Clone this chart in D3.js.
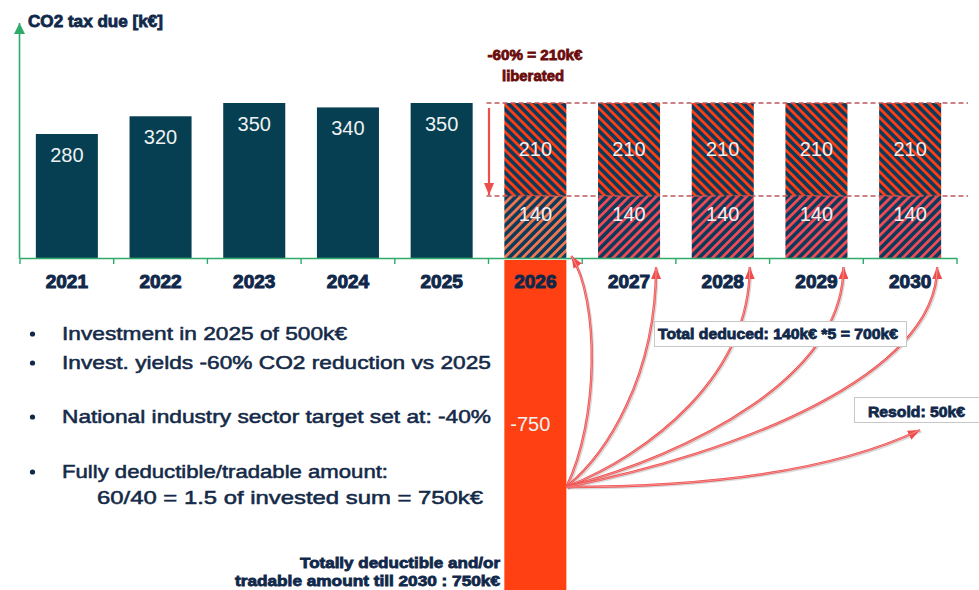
<!DOCTYPE html>
<html>
<head>
<meta charset="utf-8">
<script src="https://cdn.jsdelivr.net/npm/d3@7"></script>
<style>
body { margin: 0; background: #fff; }
svg { display: block; font-family: "Liberation Sans", Arial, sans-serif; }
</style>
</head>
<body>
<div id="chart"></div>
<script>
// ---- data ----
const years = ["2021", "2022", "2023", "2024", "2025", "2026", "2027", "2028", "2029", "2030"];
const pastYears = ["2021", "2022", "2023", "2024", "2025"];
const taxDue = [280, 320, 350, 340, 350];
const futureYears = ["2026", "2027", "2028", "2029", "2030"];
const liberated = [210, 210, 210, 210, 210];
const deducted = [140, 140, 140, 140, 140];
const tradableYear = "2026";
const tradableAmount = -750;

const bullets = [
    {text: "Investment  in 2025 of 500k€", len: 285, bullet: true},
    {text: "Invest.  yields -60% CO2 reduction vs 2025", len: 429, bullet: true},
    {text: "National industry  sector target set at:  -40%", len: 429, bullet: true},
    {text: "Fully  deductible/tradable  amount:", len: 326, bullet: true},
    {text: "60/40 = 1.5 of invested sum = 750k€", len: 386, bullet: false}
];

// colours
const navy = "#063f51";
const hatchNavy = "#0c3a5a";
const textNavy = "#10284a";
const green = "#2eaa6a";
const arrowRed = "#ef4c4c";

const W = 979, H = 590;

const svg = d3.select("#chart").append("svg")
    .attr("width", W)
    .attr("height", H);

// scales
const x = d3.scaleBand()
    .domain(years)
    .range([20, 957])
    .paddingInner(0.338)
    .paddingOuter(0.169);

const y = d3.scaleLinear()
    .domain([-750, 350])
    .range([590, 103]);

const bw = x.bandwidth();
const y0 = y(0);

// ---- defs: hatches + arrowheads ----
const defs = svg.append("defs");

function hatch(id, stripe, angle) {
    const p = defs.append("pattern")
        .attr("id", id)
        .attr("patternUnits", "userSpaceOnUse")
        .attr("width", 6.4)
        .attr("height", 6.4)
        .attr("patternTransform", `rotate(${angle})`);
    p.append("rect").attr("width", 6.4).attr("height", 6.4).attr("fill", hatchNavy);
    p.append("rect").attr("width", 2.8).attr("height", 6.4).attr("fill", stripe);
}
hatch("hatchTop", "#ff3c12", -45);
hatch("hatchLowFirst", "#f0764f", 45);
hatch("hatchLow", "#f04a58", 45);

function arrowHead(id, color, w, l) {
    defs.append("marker")
        .attr("id", id)
        .attr("viewBox", `0 0 ${l} ${w}`)
        .attr("refX", l)
        .attr("refY", w / 2)
        .attr("markerWidth", l)
        .attr("markerHeight", w)
        .attr("markerUnits", "userSpaceOnUse")
        .attr("orient", "auto")
        .append("path")
        .attr("d", `M0,0 L${l},${w / 2} L0,${w} Z`)
        .attr("fill", color);
}
arrowHead("headGreen", green, 11, 11);
arrowHead("headRed", arrowRed, 10, 12);

// ---- past bars ----
const pastData = pastYears.map((d, i) => ({year: d, value: taxDue[i]}));

svg.append("g").selectAll("rect")
    .data(pastData)
    .enter().append("rect")
    .attr("x", d => x(d.year))
    .attr("y", d => y(d.value))
    .attr("width", bw)
    .attr("height", d => y0 - y(d.value))
    .attr("fill", navy);

// ---- future stacked hatched bars ----
const futureData = futureYears.map((d, i) => ({year: d, low: deducted[i], top: liberated[i]}));

svg.append("g").selectAll("rect")
    .data(futureData)
    .enter().append("rect")
    .attr("x", d => x(d.year))
    .attr("y", d => y(d.low + d.top))
    .attr("width", bw)
    .attr("height", d => y(d.low) - y(d.low + d.top))
    .attr("fill", "url(#hatchTop)");

svg.append("g").selectAll("rect")
    .data(futureData)
    .enter().append("rect")
    .attr("x", d => x(d.year))
    .attr("y", d => y(d.low))
    .attr("width", bw)
    .attr("height", d => y0 - y(d.low))
    .attr("fill", d => d.year === tradableYear ? "url(#hatchLowFirst)" : "url(#hatchLow)");

// ---- negative tradable bar ----
svg.append("rect")
    .attr("x", x(tradableYear))
    .attr("y", y0 + 2)
    .attr("width", bw)
    .attr("height", y(tradableAmount) - y0)
    .attr("fill", "#ff4013");

// ---- dashed reference lines + down arrow ----
const firstFuture = x(futureYears[0]) - (x.step() - bw) / 2;
const totalFuture = deducted[0] + liberated[0];
[totalFuture, deducted[0]].forEach(v => {
    svg.append("line")
        .attr("x1", firstFuture - 2)
        .attr("x2", x.range()[1] + 11)
        .attr("y1", y(v))
        .attr("y2", y(v))
        .attr("stroke", "#c05a5a")
        .attr("stroke-width", 1.4)
        .attr("stroke-dasharray", "5,3");
});

svg.append("line")
    .attr("x1", firstFuture + 0.5)
    .attr("x2", firstFuture + 0.5)
    .attr("y1", y(totalFuture) + 5)
    .attr("y2", y(deducted[0]) - 1)
    .attr("stroke", arrowRed)
    .attr("stroke-width", 2.2)
    .attr("marker-end", "url(#headRed)");

// ---- axes ----
svg.append("line")
    .attr("x1", x.range()[0])
    .attr("x2", x.range()[1])
    .attr("y1", y0 + 0.5)
    .attr("y2", y0 + 0.5)
    .attr("stroke", green)
    .attr("stroke-width", 1.6);

d3.range(years.length + 1).forEach(i => {
    const bx = x.range()[0] + i * x.step();
    svg.append("line")
        .attr("x1", bx).attr("x2", bx)
        .attr("y1", y0).attr("y2", y0 + 6)
        .attr("stroke", green)
        .attr("stroke-width", 1.4);
});

svg.append("line")
    .attr("x1", 19.5).attr("x2", 19.5)
    .attr("y1", y0 + 0.5).attr("y2", 23)
    .attr("stroke", green)
    .attr("stroke-width", 1.6)
    .attr("marker-end", "url(#headGreen)");

const xAxis = d3.axisBottom(x).tickSize(0).tickPadding(17);
const xg = svg.append("g")
    .attr("transform", `translate(0,${y0})`)
    .call(xAxis);
xg.select(".domain").remove();
xg.selectAll("text")
    .attr("font-family", "'Liberation Sans', Arial, sans-serif")
    .attr("font-size", 19)
    .attr("font-weight", "bold")
    .attr("fill", textNavy)
    .attr("stroke", textNavy)
    .attr("stroke-width", 1);

// ---- value labels ----
const labelFill = "#eef2f2";

svg.append("g").selectAll("text")
    .data(pastData)
    .enter().append("text")
    .attr("x", d => x(d.year) + bw / 2)
    .attr("y", d => y(d.value) + 28)
    .attr("text-anchor", "middle")
    .attr("font-size", 20)
    .attr("fill", labelFill)
    .text(d => d.value);

svg.append("g").selectAll("text")
    .data(futureData)
    .enter().append("text")
    .attr("x", d => x(d.year) + bw / 2)
    .attr("y", d => (y(d.low + d.top) + y(d.low)) / 2 + 7)
    .attr("text-anchor", "middle")
    .attr("font-size", 20)
    .attr("fill", labelFill)
    .text(d => d.top);

svg.append("g").selectAll("text")
    .data(futureData)
    .enter().append("text")
    .attr("x", d => x(d.year) + bw / 2)
    .attr("y", d => y(d.low) + 25)
    .attr("text-anchor", "middle")
    .attr("font-size", 20)
    .attr("fill", labelFill)
    .text(d => d.low);

svg.append("text")
    .attr("x", x(tradableYear) + bw / 2 - 5)
    .attr("y", 431)
    .attr("text-anchor", "middle")
    .attr("font-size", 20)
    .attr("fill", labelFill)
    .text(tradableAmount);

// ---- title + annotations ----
function boldText(tx, ty, str, size, len, color, anchor) {
    return svg.append("text")
        .attr("x", tx)
        .attr("y", ty)
        .attr("text-anchor", anchor || "start")
        .attr("font-size", size)
        .attr("font-weight", "bold")
        .attr("fill", color)
        .attr("stroke", color)
        .attr("stroke-width", 0.8)
        .attr("textLength", len)
        .attr("lengthAdjust", "spacingAndGlyphs")
        .text(str);
}

boldText(28, 27, "CO2 tax due [k€]", 17, 135, textNavy);
boldText(535, 60, "-60% = 210k€", 15, 95, "#6b0b0b", "middle");
boldText(533, 81, "liberated", 15, 62, "#6b0b0b", "middle");

// ---- curved arrows from the tradable bar ----
const start = [x(tradableYear) + bw, 487];
const arrowG = svg.append("g");

function drawArrow(d) {
    arrowG.append("path")
        .attr("d", d)
        .attr("fill", "none")
        .attr("stroke", "#999")
        .attr("stroke-opacity", 0.35)
        .attr("stroke-width", 2)
        .attr("transform", "translate(1.5,1.5)");
    arrowG.append("path")
        .attr("d", d)
        .attr("fill", "none")
        .attr("stroke", arrowRed)
        .attr("stroke-width", 2.4)
        .attr("marker-end", "url(#headRed)");
    arrowG.append("path")
        .attr("d", d)
        .attr("fill", "none")
        .attr("stroke", "#f9c0c0")
        .attr("stroke-width", 0.6);
}

futureYears.forEach(yr => {
    const [sx, sy] = start;
    let ex, ey, c1, c2;
    if (yr === tradableYear) {
        ex = x(yr) + bw + 5;
        ey = y0 - 2;
        c1 = [sx + 33, sy - 67];
        c2 = [sx + 33, ey + 44];
    } else {
        ex = x(yr) + bw - 4;
        ey = y0 + 9;
        const dx = ex - sx, dy = sy - ey;
        c1 = [sx + 0.45 * dx, sy - 0.15 * dy];
        c2 = [ex, ey + 0.5 * dy];
    }
    const p = d3.path();
    p.moveTo(sx, sy);
    p.bezierCurveTo(c1[0], c1[1], c2[0], c2[1], ex, ey);
    drawArrow(p.toString());
});

// resold arrow
const resoldBox = {x: 854, y: 397, w: 130, h: 25};
{
    const p = d3.path();
    p.moveTo(start[0], start[1]);
    p.quadraticCurveTo(800, start[1], resoldBox.x + 66, resoldBox.y + resoldBox.h + 8);
    drawArrow(p.toString());
}

// ---- boxes ----
const deducedBox = {x: 654, y: 321, w: 252, h: 25};
[deducedBox, resoldBox].forEach(b => {
    svg.append("rect")
        .attr("x", b.x + 0.5)
        .attr("y", b.y + 0.5)
        .attr("width", b.w)
        .attr("height", b.h)
        .attr("fill", "#fff")
        .attr("stroke", "#c8c8c8")
        .attr("stroke-width", 1);
});
boldText(658, 339, "Total deduced: 140k€ *5 = 700k€", 15, 240, textNavy);
boldText(868, 417, "Resold: 50k€", 15, 97, textNavy);

// ---- bullet text ----
const bulletY = [340, 369, 423, 478, 504];
const bg = svg.append("g");
bullets.forEach((b, i) => {
    if (b.bullet) {
        bg.append("circle")
            .attr("cx", 32.5)
            .attr("cy", bulletY[i] - 6)
            .attr("r", 2.6)
            .attr("fill", textNavy);
    }
    bg.append("text")
        .attr("x", b.bullet ? 62 : 97)
        .attr("y", bulletY[i])
        .attr("font-size", 19)
        .attr("fill", "#142a48")
        .attr("stroke", "#142a48")
        .attr("stroke-width", 0.55)
        .attr("textLength", b.len)
        .attr("lengthAdjust", "spacingAndGlyphs")
        .text(b.text);
});

// ---- bottom note ----
boldText(500, 568, "Totally deductible and/or", 15, 200, textNavy, "end");
boldText(500, 586, "tradable amount till 2030 : 750k€", 15, 265, textNavy, "end");
</script>
</body>
</html>
